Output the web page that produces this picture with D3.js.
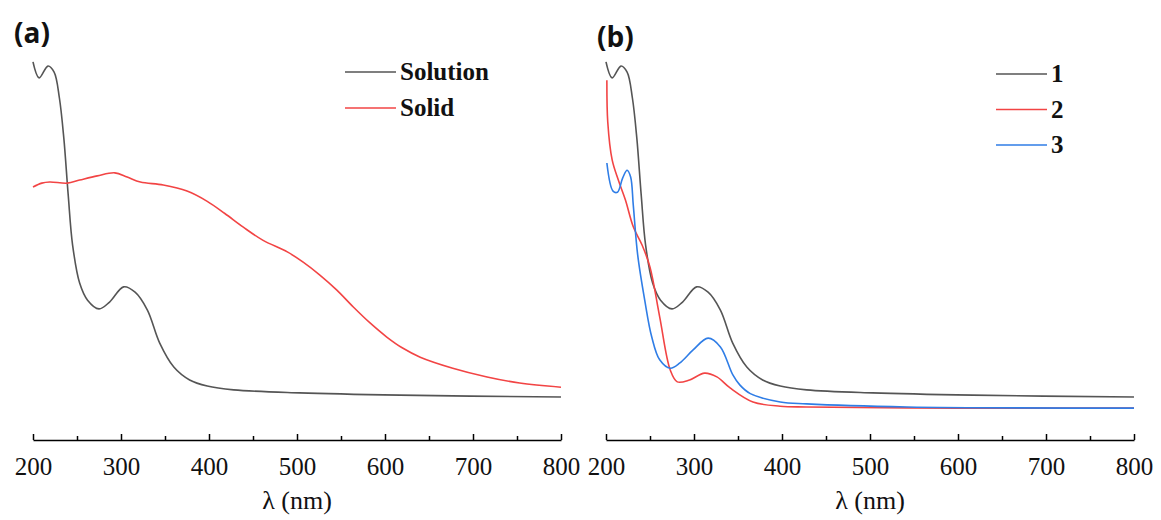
<!DOCTYPE html>
<html>
<head>
<meta charset="utf-8">
<script src="https://cdn.jsdelivr.net/npm/d3@7"></script>
<style>
  body { margin: 0; background: #fff; }
</style>
</head>
<body>
<div id="chart"></div>
<script>
// UV-vis spectra, wavelength (nm) vs absorbance (arbitrary units)
var w = 1161;
var h = 520;
var serif = "'Liberation Serif', 'Times New Roman', serif";

var majorTicks = [200, 300, 400, 500, 600, 700, 800];
var minorTicks = [250, 350, 450, 550, 650, 750];

// solution spectrum, also used as compound 1 in panel (b)
var solution = [[200,0.995],[207,0.953],[217,0.984],[224,0.968],[230,0.900],[235,0.795],
    [240,0.645],[245,0.513],[253,0.413],[262,0.368],[275,0.345],[287,0.363],[303,0.403],
    [316,0.389],[330,0.342],[344,0.255],[360,0.192],[378,0.158],[398,0.142],[428,0.132],
    [503,0.124],[617,0.118],[800,0.113]];

var solid = [[200,0.666],[210,0.676],[219,0.679],[239,0.676],[253,0.684],[273,0.695],
    [293,0.703],[307,0.692],[322,0.679],[348,0.671],[375,0.655],[398,0.628],[418,0.596],
    [439,0.560],[461,0.526],[489,0.495],[507,0.468],[526,0.434],[545,0.395],[564,0.350],
    [583,0.308],[602,0.271],[620,0.242],[640,0.218],[677,0.189],[716,0.166],[753,0.150],
    [800,0.139]];

var compound2 = [[201,0.947],[202,0.837],[207,0.737],[214,0.684],[222,0.632],[231,0.561],
    [241,0.513],[250,0.455],[261,0.324],[273,0.184],[281,0.153],[295,0.158],[312,0.176],
    [326,0.166],[341,0.137],[367,0.100],[398,0.089],[428,0.087],[600,0.084],[800,0.084]];

var compound3 = [[201,0.729],[208,0.655],[213,0.652],[219,0.690],[224,0.710],[228,0.692],
    [231,0.618],[236,0.487],[244,0.368],[252,0.271],[261,0.211],[273,0.189],[284,0.203],
    [299,0.237],[316,0.268],[330,0.245],[344,0.172],[352,0.145],[364,0.122],[398,0.100],
    [428,0.095],[542,0.087],[800,0.084]];

var grey = "#555555", red = "#f24444", blue = "#2f7de6";

var panels = [
    { label: "(a)", left: 33, right: 561, labelX: 14, labelY: 43,
      series: [{ name: "Solution", data: solution, color: grey },
               { name: "Solid", data: solid, color: red }],
      legendX: 345, legendY: 72, legendStep: 36 },
    { label: "(b)", left: 606, right: 1134, labelX: 597, labelY: 47,
      series: [{ name: "1", data: solution, color: grey },
               { name: "2", data: compound2, color: red },
               { name: "3", data: compound3, color: blue }],
      legendX: 996, legendY: 74, legendStep: 35.5 }
];

var svg = d3.select("#chart")
    .append("svg")
        .attr("width", w)
        .attr("height", h);

var y = d3.scaleLinear()
    .domain([0, 1])
    .range([440, 60]);

panels.forEach(function(p){
    var x = d3.scaleLinear()
        .domain([200, 800])
        .range([p.left, p.right]);

    var line = d3.line()
        .x(function(d){ return x(d[0]); })
        .y(function(d){ return y(d[1]); })
        .curve(d3.curveCatmullRom.alpha(0.5));

    p.series.forEach(function(s){
        svg.append("path")
            .datum(s.data)
            .attr("d", line)
            .attr("fill", "none")
            .attr("stroke", s.color)
            .attr("stroke-width", 1.6);
    });

    // major ticks with labels
    var ax = svg.append("g")
        .attr("transform", "translate(0,440)")
        .call(d3.axisBottom(x)
            .tickValues(majorTicks)
            .tickSize(-6)
            .tickSizeOuter(0)
            .tickPadding(17)
            .tickFormat(d3.format("d")));
    ax.select(".domain").attr("stroke-width", 1.5);
    ax.selectAll(".tick line").attr("stroke-width", 1.5);
    ax.selectAll("text")
        .style("font-family", serif)
        .style("font-size", "25px")
        .attr("fill", "#111");

    // minor ticks
    var mx = svg.append("g")
        .attr("transform", "translate(0,440)")
        .call(d3.axisBottom(x)
            .tickValues(minorTicks)
            .tickSize(-4)
            .tickSizeOuter(0)
            .tickFormat(""));
    mx.select(".domain").remove();
    mx.selectAll(".tick line").attr("stroke-width", 1.5);

    svg.append("text")
        .attr("x", (p.left + p.right) / 2)
        .attr("y", 509)
        .attr("text-anchor", "middle")
        .style("font-family", serif)
        .style("font-size", "26px")
        .attr("fill", "#111")
        .text("λ (nm)");

    svg.append("text")
        .attr("x", p.labelX)
        .attr("y", p.labelY)
        .style("font-family", "'Open Sans', sans-serif")
        .style("font-weight", "bold")
        .style("font-size", "28px")
        .attr("fill", "#111")
        .text(p.label);

    var leg = svg.selectAll(null)
        .data(p.series)
        .enter()
        .append("g")
        .attr("transform", function(d, i){
            return "translate(" + p.legendX + "," + (p.legendY + i * p.legendStep) + ")";
        });
    leg.append("line")
        .attr("x1", 0).attr("x2", 51)
        .attr("stroke", function(d){ return d.color; })
        .attr("stroke-width", 1.6);
    leg.append("text")
        .attr("x", 55)
        .attr("y", 8)
        .style("font-family", serif)
        .style("font-size", "25px")
        .style("font-weight", "bold")
        .attr("fill", "#111")
        .text(function(d){ return d.name; });
});
</script>
</body>
</html>
